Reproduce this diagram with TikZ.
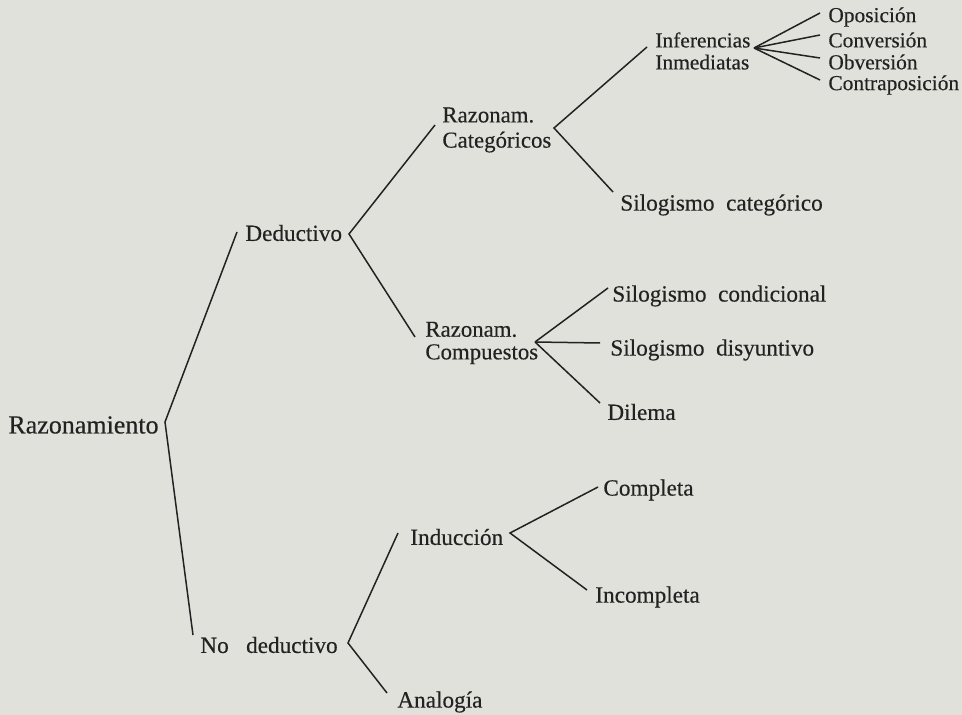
\documentclass[tikz,border=0pt]{standalone}
\usepackage{fontspec}
\setmainfont{Liberation Serif}[FakeBold=0.35]
\usetikzlibrary{calc}
\definecolor{paper}{RGB}{225,225,220}
\definecolor{ink}{RGB}{34,34,34}
\begin{document}
\begin{tikzpicture}[x=0.5pt,y=-0.5pt,
  lbl/.style={anchor=west,inner sep=0pt,text=ink,font=\fontsize{11.6}{13}\selectfont},
  sml/.style={lbl,font=\fontsize{10.7}{11}\selectfont},
  br/.style={draw=ink,line width=0.75pt}]
\fill[paper] (0,0) rectangle (962,715);
\useasboundingbox (0,0) rectangle (962,715);
% nodes
\node[lbl,font=\fontsize{13}{14}\selectfont] (raz) at (8,425) {Razonamiento};
\node[lbl] (ded) at (245,233) {Deductivo};
\node[lbl] (nod) at (200,645) {No\ \ \ deductivo};
\node[lbl,align=left,font=\fontsize{11.4}{12.6}\selectfont] (cat) at (442,130) {Razonam.\\Categóricos};
\node[lbl,align=left,font=\fontsize{11.4}{11.3}\selectfont] (com) at (425,343) {Razonam.\\Compuestos};
\node[sml,align=left] (inf) at (655,51) {Inferencias\\Inmediatas};
\node[sml] (opo) at (828,17) {Oposición};
\node[sml] (conv) at (828,40) {Conversión};
\node[sml] (obv) at (828,62) {Obversión};
\node[sml] (contra) at (828,85) {Contraposición};
\node[lbl] (silcat) at (620,205) {Silogismo\ \ categórico};
\node[lbl] (silcond) at (612,296) {Silogismo\ \ condicional};
\node[lbl] (sildis) at (610,350) {Silogismo\ \ disyuntivo};
\node[lbl] (dil) at (607,412) {Dilema};
\node[lbl] (indu) at (410,537) {Inducción};
\node[lbl] (compl) at (603,490) {Completa};
\node[lbl] (incompl) at (595,597) {Incompleta};
\node[lbl] (anal) at (397,702) {Analogía};
% vertices
\coordinate (v0) at (165,422);
\coordinate (v1) at (349,234);
\coordinate (v2) at (554,128);
\coordinate (v3) at (754,48);
\coordinate (v4) at (535,342);
\coordinate (v5) at (348,643);
\coordinate (v6) at (510,533);
% connectors
\draw[br] ($(ded.west)+(-8,-1)$) -- (v0) -- ($(nod.west)+(-7,-10)$);
\draw[br] ($(cat.west)+(-7,-5)$) -- (v1) -- ($(com.west)+(-10,-6)$);
\draw[br] ($(inf.west)+(-8,-4)$) -- (v2) -- ($(silcat.west)+(-7,-13)$);
\draw[br] (v3) -- ($(opo.west)+(-8,-4)$);
\draw[br] (v3) -- ($(conv.west)+(-8,-5)$);
\draw[br] (v3) -- ($(obv.west)+(-8,-4)$);
\draw[br] (v3) -- ($(contra.west)+(-8,-5)$);
\draw[br] (v4) -- ($(silcond.west)+(-4,-8)$);
\draw[br] (v4) -- ($(sildis.west)+(-10,-7)$);
\draw[br] (v4) -- ($(dil.west)+(-7,-9)$);
\draw[br] ($(indu.west)+(-12,-4)$) -- (v5) -- ($(anal.west)+(-10,-9)$);
\draw[br] ($(compl.west)+(-5,-3)$) -- (v6) -- ($(incompl.west)+(-8,-7)$);
\end{tikzpicture}
\end{document}
